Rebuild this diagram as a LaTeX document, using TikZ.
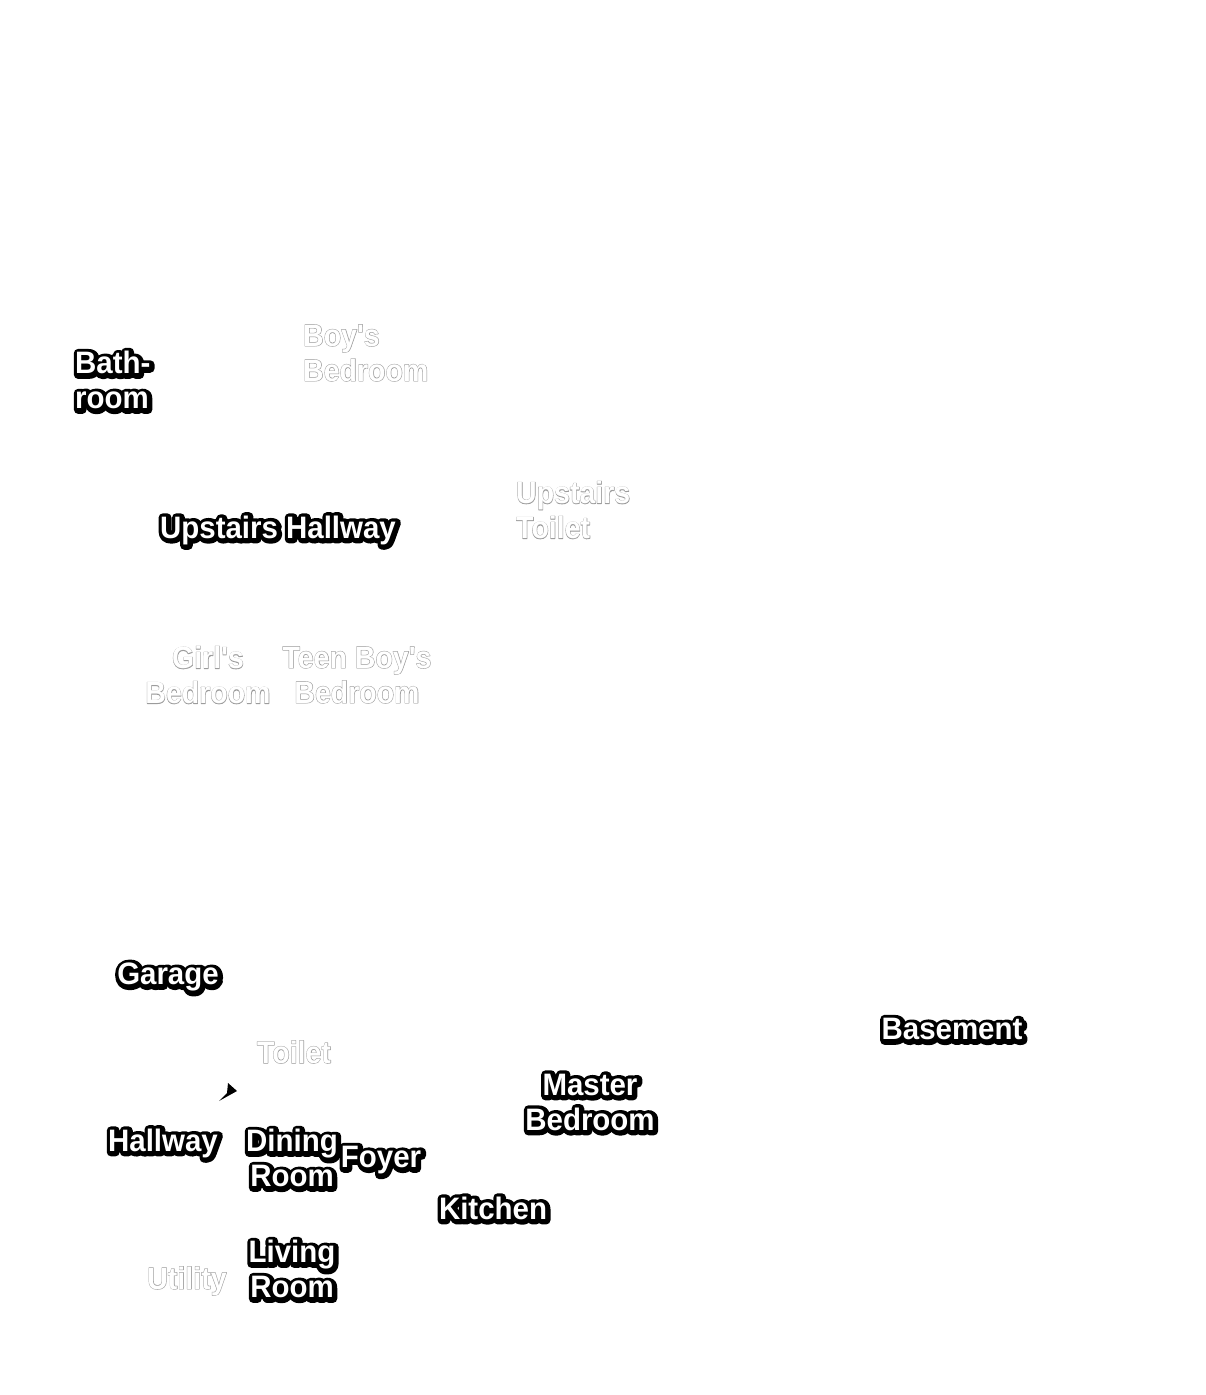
\documentclass[tikz,border=0pt]{standalone}
\usepackage{fontspec}
\newfontfamily\roomfont{Liberation Sans}[UprightFont=* Bold, FakeStretch=0.95]
\newfontfamily\rimfont{Liberation Sans}[UprightFont=* Bold, FakeStretch=0.95, FakeBold=28]
\newfontfamily\paleroomfont{Liberation Sans}[UprightFont=* Bold, FakeStretch=0.92]
\newfontfamily\hazefont{Liberation Sans}[UprightFont=* Bold, FakeStretch=0.92, FakeBold=3]
\usepackage{tikz}
\usetikzlibrary{positioning}
\definecolor{MapInk}{HTML}{000000}
\definecolor{MapPaper}{HTML}{FFFFFF}
\definecolor{MapFaded}{HTML}{9C9C9C}
\tikzset{
    % label styles
    room/.style={
        inner sep=0pt,
        text=MapPaper,
        font=\roomfont\fontsize{31}{35}\selectfont,
        align=center
    },
    paleroom/.style={
        room,
        font=\paleroomfont\fontsize{31}{35}\selectfont
    },
    left/.style={
        align=left,
        anchor=west
    },
    % black rim under a visited room, set a little down and right
    rim/.style={
        text=MapInk,
        font=\rimfont\fontsize{31}{35}\selectfont,
        line join=round,
        miter limit=1,
        xshift=1pt,
        yshift=-1pt
    },
    % thin grey rim under a room not yet visited
    haze/.style={
        text=MapFaded,
        font=\hazefont\fontsize{31}{35}\selectfont,
        line join=round,
        miter limit=1
    },
    marker/.style={
        fill=MapInk
    }
}
% one label = rim layer + white layer
\newcommand{\visited}[4][]{%
    \node[room, #1, rim] (#2-rim) at (#3) {#4};
    \node[room, #1] (#2) at (#3) {#4};}
\newcommand{\unvisited}[4][]{%
    \node[paleroom, #1, haze] (#2-rim) at (#3) {#4};
    \node[paleroom, #1] (#2) at (#3) {#4};}
\begin{document}
\begin{tikzpicture}[x=1pt, y=-1pt]
    \useasboundingbox[fill=MapPaper] (0,0) rectangle (1206,1395);

    % Upstairs
    \visited[left]{bath}{75,380}{Bath-\\room}
    \unvisited[left]{boys}{303,353}{Boy's\\Bedroom}
    \visited{uphall}{278,530}{Upstairs Hallway}
    \unvisited[left]{uptoilet}{516,510}{Upstairs\\Toilet}
    \unvisited{girls}{208,675}{Girl's\\Bedroom}
    \unvisited{teenboys}{357,675}{Teen Boy's\\Bedroom}

    % Ground floor
    \visited{garage}{168,977}{Garage}
    \unvisited{toilet}{294,1052}{Toilet}
    \visited{basement}{952,1029}{Basement}
    \visited{master}{590,1102}{Master\\Bedroom}
    \visited{hallway}{163,1143}{Hallway}
    \visited{dining}{292,1158}{Dining\\Room}
    \visited{foyer}{381,1160}{Foyer}
    \visited{kitchen}{493,1208}{Kitchen}
    \visited{living}{292,1269}{Living\\Room}
    \unvisited{utility}{187,1281}{Utility}

    % you-are-here marker
    \fill[marker] (237,1091) -- (228,1083) -- (227,1093) -- (219,1101) -- cycle;
\end{tikzpicture}
\end{document}
